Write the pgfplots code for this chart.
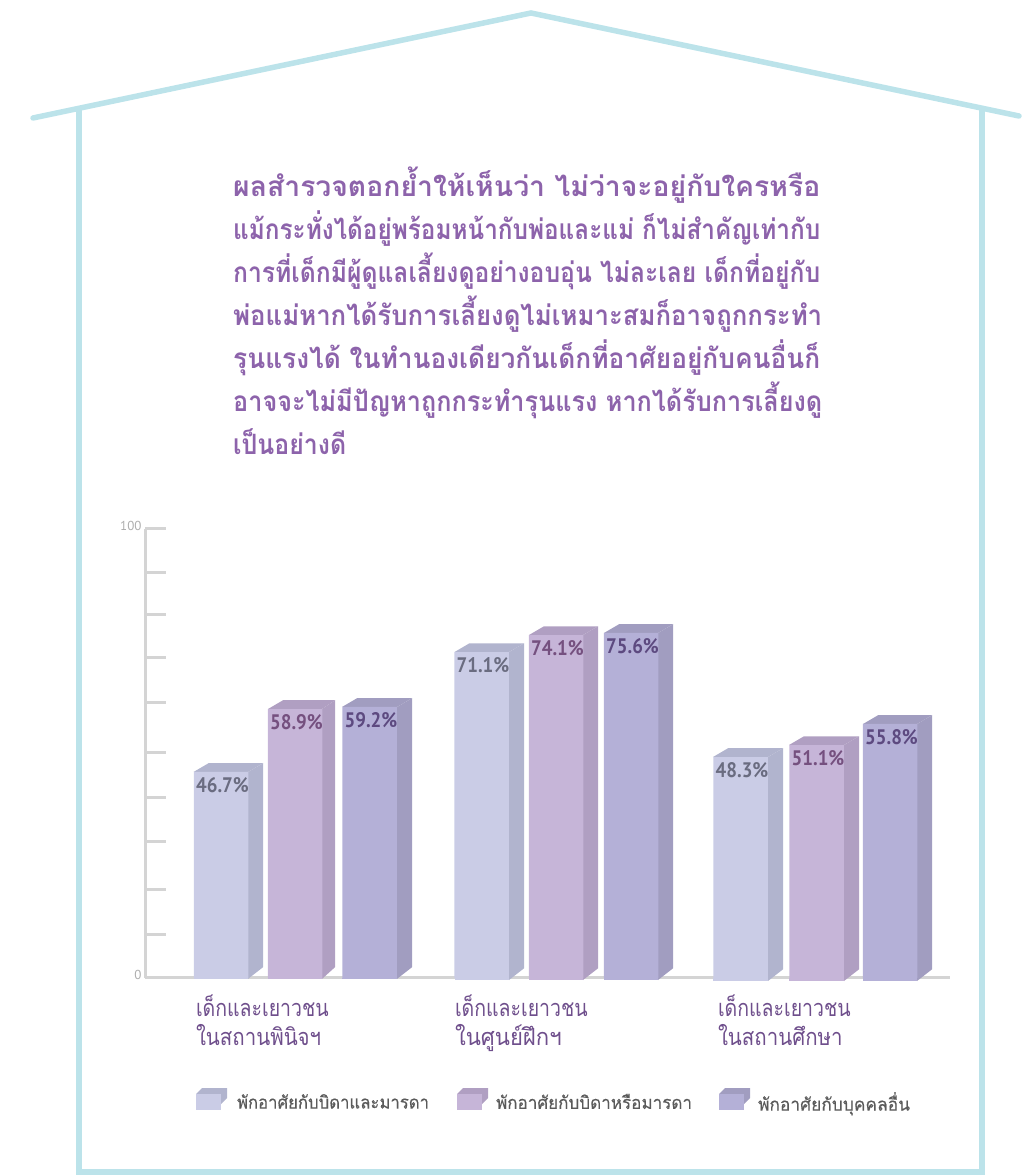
\documentclass[border=0pt]{standalone}
\usepackage{fontspec}
\usepackage{graphicx}
\usepackage{pgfplots}
\usepackage{pgfplotstable}
\pgfplotsset{compat=1.18}
\newfontfamily\thaifont[Script=Thai]{Loma}
\newfontfamily\thaimed[Script=Thai,FakeBold=0.4]{Loma}
\newfontfamily\numfont{PT Sans}
\definecolor{house}{HTML}{BCE3EA}
\definecolor{head}{HTML}{8D63AB}
\definecolor{cat}{HTML}{6F4F8C}
\definecolor{axisgrey}{HTML}{D4D4D4}
\definecolor{frontA}{HTML}{CACCE6}
\definecolor{sideA}{HTML}{B1B4CE}
\definecolor{labelA}{HTML}{6A6C80}
\definecolor{frontB}{HTML}{C6B5D8}
\definecolor{sideB}{HTML}{B09FC2}
\definecolor{labelB}{HTML}{75507F}
\definecolor{frontC}{HTML}{B4B0D7}
\definecolor{sideC}{HTML}{A19DC0}
\definecolor{labelC}{HTML}{5D4A80}

% bar height is in axis units (as measured in the picture), label is the printed percentage
\pgfplotstableread{
x y label
221 45.88 46.7
481.5 72.60 71.1
740.5 49.22 48.3
}\seriesA
\pgfplotstableread{
x y label
295 59.91 58.9
556 76.39 74.1
816.5 51.89 51.1
}\seriesB
\pgfplotstableread{
x y label
369.5 60.36 59.2
631 76.84 75.6
890 56.57 55.8
}\seriesC

% #1 series, #2 front left, #3 front right, #4 back right, #5 top, #6 base
\newcommand{\barfaces}[6]{
  \addplot[fill=side#1,draw=none,forget plot] coordinates {(#3,#5) (#4,{#5+1.95}) (#4,{#6+2.6}) (#3,#6)};
  \addplot[fill=side#1,draw=none,forget plot] coordinates {(#2,#5) ({#2+15},{#5+1.95}) (#4,{#5+1.95}) (#3,#5)};
  \addplot[fill=front#1,draw=none,forget plot] coordinates {(#2,0) (#3,0) (#3,#6) (#2,#6)};
}
\pgfplotsset{
  frontbar/.style={ybar,bar width=54.5,bar shift=0pt,fill=front#1,draw=none,
    nodes near coords={\scalebox{0.9}[1]{\pgfplotspointmeta\%}},point meta=explicit symbolic,
    every node near coord/.append style={anchor=center,yshift=-13.5pt,xshift=1.5pt,
      font=\numfont\bfseries\fontsize{21}{21}\selectfont,text=label#1},
    legend image code/.code={
      \fill[side#1] (0pt,8pt) -- (6pt,14pt) -- (31pt,14pt) -- (31pt,4pt) -- (25pt,-2pt) -- (25pt,8pt) -- cycle;
      \fill[front#1] (0pt,-8pt) rectangle (25pt,8pt);
    }},
}
% #1 cell width, #2 text start, #3 text width, #4 text
\newcommand{\legtext}[4]{\makebox[#1pt][l]{\hspace*{#2pt}\resizebox{#3pt}{\height}{\thaimed\fontsize{18}{20}\selectfont\color[HTML]{5A5A5A}#4}}}

\begin{document}
\begin{tikzpicture}[x=1pt,y=1pt]
\useasboundingbox (0,0) rectangle (1021,1176);

\draw[house,line width=5.5pt,line cap=round,line join=miter] (33,1058) -- (531,1163) -- (1019,1060);
\draw[house,line width=5.5pt,line join=miter] (79,1066) -- (79,4) -- (982,4) -- (982,1066);

\begin{scope}[font=\thaifont\bfseries\fontsize{28}{32}\selectfont,text=head]
\node[anchor=base west,inner sep=0pt] at (233,979) {\resizebox{587pt}{\height}{ผลสำรวจตอกย้ำให้เห็นว่า  ไม่ว่าจะอยู่กับใครหรือ}};
\node[anchor=base west,inner sep=0pt] at (233,936) {\resizebox{587pt}{\height}{แม้กระทั่งได้อยู่พร้อมหน้ากับพ่อและแม่ ก็ไม่สำคัญเท่ากับ}};
\node[anchor=base west,inner sep=0pt] at (233,893) {\resizebox{587pt}{\height}{การที่เด็กมีผู้ดูแลเลี้ยงดูอย่างอบอุ่น ไม่ละเลย เด็กที่อยู่กับ}};
\node[anchor=base west,inner sep=0pt] at (233,850) {\resizebox{589pt}{\height}{พ่อแม่หากได้รับการเลี้ยงดูไม่เหมาะสมก็อาจถูกกระทำ}};
\node[anchor=base west,inner sep=0pt] at (233,807) {\resizebox{587pt}{\height}{รุนแรงได้  ในทำนองเดียวกันเด็กที่อาศัยอยู่กับคนอื่นก็}};
\node[anchor=base west,inner sep=0pt] at (233,764) {\resizebox{589pt}{\height}{อาจจะไม่มีปัญหาถูกกระทำรุนแรง  หากได้รับการเลี้ยงดู}};
\node[anchor=base west,inner sep=0pt] at (233,721) {\resizebox{113pt}{\height}{เป็นอย่างดี}};
\end{scope}

\begin{axis}[
  at={(145pt,198pt)},anchor=south west,
  scale only axis,width=805pt,height=449pt,
  xmin=145,xmax=950,ymin=0,ymax=100,
  clip=false,
  axis x line*=bottom,axis y line*=left,
  every outer x axis line/.append style={draw=axisgrey,line width=3pt,-},
  every outer y axis line/.append style={draw=axisgrey,line width=3pt,-},
  /tikz/line width=3pt,
  tick align=inside,major tick length=21pt,
  every tick/.style={draw=axisgrey,line width=3pt},
  every major tick/.append style={draw=axisgrey,line width=3pt},
  ytick={0,9.58,19.82,30.51,40.31,50.33,61.25,71.27,80.85,90.42,100},
  yticklabels={0,,,,,,,,,,100},
  yticklabel style={font=\numfont\fontsize{13}{13}\selectfont,text=black!32,yshift=3pt,inner sep=1pt,xshift=-1pt},
  xtick={263,522,785},
  xticklabels={{\scalebox{0.83}[1]{เด็กและเยาวชน}\\\scalebox{0.87}[1]{ในสถานพินิจฯ}},
    {\scalebox{0.83}[1]{เด็กและเยาวชน}\\\scalebox{0.94}[1]{ในศูนย์ฝึกฯ}},
    {\scalebox{0.83}[1]{เด็กและเยาวชน}\\\scalebox{0.87}[1]{ในสถานศึกษา}}},
  every x tick/.append style={draw=none},
  xticklabel style={text width=134pt,align=left,inner sep=0pt,yshift=-15pt,text=cat,
    font=\thaifont\fontsize{23.5}{29}\selectfont},
  legend columns=3,
  legend style={at={(axis cs:196,-27.2)},anchor=west,draw=none,fill=none,inner sep=0pt,outer sep=0pt,
    /tikz/every even column/.append style={column sep=0pt},
    nodes={inner sep=0pt,anchor=west}},
]
\barfaces{A}{193.5}{248}{263}{45.88}{-0.2}
\barfaces{A}{454.5}{509}{524}{72.60}{-0.45}
\barfaces{A}{713}{768}{783}{49.22}{-0.67}
\barfaces{B}{268}{322}{335}{59.91}{-0.2}
\barfaces{B}{529}{583}{598}{76.39}{-0.45}
\barfaces{B}{789}{844}{859}{51.89}{-0.67}
\barfaces{C}{342}{397}{412}{60.36}{-0.2}
\barfaces{C}{604}{658}{673}{76.84}{-0.45}
\barfaces{C}{863}{917}{932}{56.57}{-0.67}

\addplot[frontbar=A] table[x=x,y=y,meta=label] {\seriesA};
\addlegendentry{\legtext{230}{10}{192}{พักอาศัยกับบิดาและมารดา}}
\addplot[frontbar=B] table[x=x,y=y,meta=label] {\seriesB};
\addlegendentry{\legtext{231}{8}{196}{พักอาศัยกับบิดาหรือมารดา}}
\addplot[frontbar=C] table[x=x,y=y,meta=label] {\seriesC};
\addlegendentry{\legtext{160}{8}{152}{พักอาศัยกับบุคคลอื่น}}
\end{axis}
\end{tikzpicture}
\end{document}
